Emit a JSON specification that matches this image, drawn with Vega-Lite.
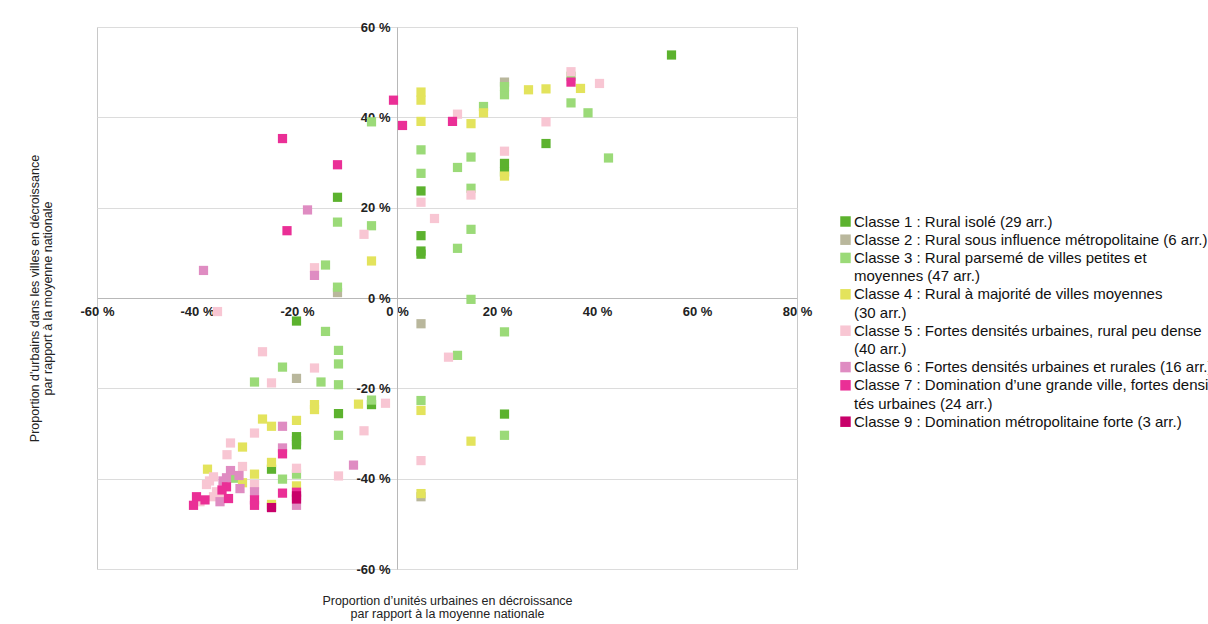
{
"$schema": "https://vega.github.io/schema/vega-lite/v6.json",
"width": 700, "height": 542,
"autosize": {"type": "none"},
"padding": {"left": 97, "top": 27, "right": 411, "bottom": 55},
"background": "white",
"config": {"view": {"stroke": "#c8c8c8"}, "font": "Liberation Sans"},
"data": {"values": [
{"c":"C1","x":-11.9,"y":22.3},{"c":"C1","x":54.9,"y":53.8},{"c":"C1","x":29.8,"y":34.2},{"c":"C1","x":21.5,"y":29.8},{"c":"C1","x":21.5,"y":27.9},{"c":"C1","x":4.8,"y":23.7},{"c":"C1","x":4.8,"y":13.8},{"c":"C1","x":4.8,"y":9.7},{"c":"C1","x":4.8,"y":10.4},{"c":"C1","x":-20.1,"y":-5.1},{"c":"C1","x":-5.1,"y":-23.6},{"c":"C1","x":-11.7,"y":-25.6},{"c":"C1","x":-20.1,"y":-30.7},{"c":"C1","x":-20.1,"y":-32.5},{"c":"C1","x":-20.1,"y":-31.6},{"c":"C1","x":-25.1,"y":-37.9},{"c":"C1","x":21.5,"y":-25.7},
{"c":"C2","x":-11.9,"y":1.2},{"c":"C2","x":-20.1,"y":-17.8},{"c":"C2","x":4.8,"y":-5.7},{"c":"C2","x":4.8,"y":-44},{"c":"C2","x":-25.1,"y":-46.2},{"c":"C2","x":21.5,"y":47.8},
{"c":"C3","x":-5.1,"y":39},{"c":"C3","x":-11.9,"y":16.8},{"c":"C3","x":-5.1,"y":16},{"c":"C3","x":-14.3,"y":7.3},{"c":"C3","x":-11.9,"y":2.4},{"c":"C3","x":34.8,"y":49.1},{"c":"C3","x":21.5,"y":45},{"c":"C3","x":21.5,"y":46.8},{"c":"C3","x":34.8,"y":43.2},{"c":"C3","x":17.3,"y":42.4},{"c":"C3","x":38.2,"y":41},{"c":"C3","x":4.8,"y":32.8},{"c":"C3","x":14.8,"y":31.2},{"c":"C3","x":42.3,"y":31},{"c":"C3","x":12.1,"y":28.9},{"c":"C3","x":4.8,"y":27.6},{"c":"C3","x":14.8,"y":24.3},{"c":"C3","x":14.8,"y":15.2},{"c":"C3","x":12.1,"y":11},{"c":"C3","x":14.8,"y":-0.3},{"c":"C3","x":-14.3,"y":-7.4},{"c":"C3","x":-11.7,"y":-11.6},{"c":"C3","x":-11.7,"y":-14.6},{"c":"C3","x":-22.9,"y":-15.3},{"c":"C3","x":-28.5,"y":-18.6},{"c":"C3","x":-15.2,"y":-18.6},{"c":"C3","x":-11.7,"y":-19.2},{"c":"C3","x":-11.7,"y":-30.4},{"c":"C3","x":-20.1,"y":-39},{"c":"C3","x":-22.9,"y":-40.1},{"c":"C3","x":-32.5,"y":-39.9},{"c":"C3","x":21.5,"y":-7.5},{"c":"C3","x":12.1,"y":-12.7},{"c":"C3","x":4.8,"y":-22.7},{"c":"C3","x":21.5,"y":-30.4},{"c":"C3","x":-5.1,"y":-22.6},
{"c":"C4","x":-5.1,"y":8.2},{"c":"C4","x":36.7,"y":46.4},{"c":"C4","x":26.3,"y":46.1},{"c":"C4","x":29.8,"y":46.3},{"c":"C4","x":4.8,"y":45.6},{"c":"C4","x":4.8,"y":43.8},{"c":"C4","x":17.3,"y":41},{"c":"C4","x":4.8,"y":39.1},{"c":"C4","x":14.8,"y":38.6},{"c":"C4","x":21.5,"y":27},{"c":"C4","x":-7.7,"y":-23.5},{"c":"C4","x":-16.5,"y":-23.6},{"c":"C4","x":-16.5,"y":-24.7},{"c":"C4","x":-26.9,"y":-26.8},{"c":"C4","x":-25.1,"y":-28.4},{"c":"C4","x":-20.1,"y":-27.1},{"c":"C4","x":-30.9,"y":-33},{"c":"C4","x":-25.1,"y":-36.4},{"c":"C4","x":-37.9,"y":-37.9},{"c":"C4","x":-28.5,"y":-39},{"c":"C4","x":-30.9,"y":-40.9},{"c":"C4","x":-20.1,"y":-41.6},{"c":"C4","x":-25.1,"y":-45.7},{"c":"C4","x":4.8,"y":-24.9},{"c":"C4","x":14.8,"y":-31.7},{"c":"C4","x":4.8,"y":-43.3},
{"c":"C5","x":-6.6,"y":14.1},{"c":"C5","x":-16.5,"y":6.7},{"c":"C5","x":34.8,"y":50.1},{"c":"C5","x":40.5,"y":47.5},{"c":"C5","x":12.1,"y":40.7},{"c":"C5","x":29.8,"y":39},{"c":"C5","x":21.5,"y":32.5},{"c":"C5","x":14.8,"y":22.8},{"c":"C5","x":4.8,"y":21.2},{"c":"C5","x":7.5,"y":17.6},{"c":"C5","x":-35.9,"y":-3},{"c":"C5","x":-26.9,"y":-11.9},{"c":"C5","x":-16.5,"y":-15.5},{"c":"C5","x":-25.1,"y":-18.8},{"c":"C5","x":-2.3,"y":-23.3},{"c":"C5","x":-28.5,"y":-29.9},{"c":"C5","x":-6.6,"y":-29.4},{"c":"C5","x":-33.3,"y":-32.1},{"c":"C5","x":-34,"y":-34.7},{"c":"C5","x":-20.1,"y":-37.7},{"c":"C5","x":-30.9,"y":-37.3},{"c":"C5","x":-11.7,"y":-39.4},{"c":"C5","x":-36.7,"y":-39.6},{"c":"C5","x":-28.5,"y":-41.3},{"c":"C5","x":-38.1,"y":-41.3},{"c":"C5","x":-36.1,"y":-42.9},{"c":"C5","x":-36.7,"y":-44},{"c":"C5","x":-39.4,"y":-45.1},{"c":"C5","x":10.3,"y":-13.1},{"c":"C5","x":4.8,"y":-36},{"c":"C5","x":-37.5,"y":-40.5},{"c":"C5","x":-35.5,"y":-43.5},
{"c":"C6","x":-17.9,"y":19.5},{"c":"C6","x":-16.5,"y":5},{"c":"C6","x":-38.7,"y":6.1},{"c":"C6","x":-22.9,"y":-28.4},{"c":"C6","x":-22.9,"y":-33.2},{"c":"C6","x":-8.7,"y":-37},{"c":"C6","x":-33.3,"y":-38.2},{"c":"C6","x":-34.1,"y":-39.8},{"c":"C6","x":-31.6,"y":-39.3},{"c":"C6","x":-31.4,"y":-42.2},{"c":"C6","x":-28.5,"y":-42.9},{"c":"C6","x":-35.4,"y":-45.1},{"c":"C6","x":-20.1,"y":-45.9},{"c":"C6","x":-34.8,"y":-40.5},
{"c":"C7","x":-0.7,"y":43.8},{"c":"C7","x":1.1,"y":38.2},{"c":"C7","x":-22.9,"y":35.3},{"c":"C7","x":-11.9,"y":29.5},{"c":"C7","x":-22,"y":14.9},{"c":"C7","x":34.8,"y":47.8},{"c":"C7","x":11.1,"y":39.1},{"c":"C7","x":-22.9,"y":-34.5},{"c":"C7","x":-34.1,"y":-41.8},{"c":"C7","x":-22.9,"y":-43.2},{"c":"C7","x":-20.1,"y":-43},{"c":"C7","x":-33.7,"y":-44.4},{"c":"C7","x":-38.4,"y":-44.7},{"c":"C7","x":-40.1,"y":-44},{"c":"C7","x":-40.7,"y":-45.9},{"c":"C7","x":-28.5,"y":-44.7},{"c":"C7","x":-28.5,"y":-45.9},{"c":"C7","x":-35,"y":-42.5},
{"c":"C9","x":-20.1,"y":-43.8},{"c":"C9","x":-25.1,"y":-46.4},{"c":"C9","x":-20.1,"y":-44.5}
]},
"mark": {"type": "point", "shape": "square", "filled": true, "size": 85, "opacity": 1},
"encoding": {
"x": {"field": "x", "type": "quantitative",
 "scale": {"domain": [-60, 80], "nice": false, "zero": false},
 "axis": {"values": [-60,-40,-20,0,20,40,60,80], "offset": -271, "grid": false, "ticks": false, "labelPadding": 7,
  "labelExpr": "datum.value + ' %'", "labelFontWeight": "bold", "labelFontSize": 13, "labelColor": "#222", "labelFlush": false, "labelOverlap": false,
  "domainColor": "#b8b8b8",
  "title": ["Proportion d’unités urbaines en décroissance", "par rapport à la moyenne nationale"],
  "titleX": 350, "titleY": 302, "titleBaseline": "middle", "titleAlign": "center", "titleFontWeight": "normal", "titleFontSize": 12.5, "titleLineHeight": 13, "titleColor": "#222"}},
"y": {"field": "y", "type": "quantitative",
 "scale": {"domain": [-60, 60], "nice": false, "zero": false},
 "axis": {"values": [-60,-40,-20,0,20,40,60], "offset": -300, "grid": true, "gridColor": "#dcdcdc", "ticks": false, "labelPadding": 7,
  "labelExpr": "datum.value + ' %'", "labelFontWeight": "bold", "labelFontSize": 13, "labelColor": "#222", "labelFlush": false, "labelOverlap": false,
  "domainColor": "#b8b8b8",
  "title": ["Proportion d'urbains dans les villes en décroissance", "par rapport à la moyenne nationale"],
  "titleX": -363, "titleY": 271, "titleAngle": -90, "titleBaseline": "middle", "titleAlign": "center", "titleFontWeight": "normal", "titleFontSize": 12.5, "titleLineHeight": 13, "titleColor": "#222"}},
"color": {"field": "c", "type": "nominal",
 "scale": {"domain": ["C1","C2","C3","C3b","C4","C4b","C5","C5b","C6","C7","C7b","C9"], "range": ["#5cb22e","#b9b79c","#9bda78","rgba(255,255,255,0)","#e3e35c","rgba(255,255,255,0)","#f8c6d3","rgba(255,255,255,0)","#df8cc2","#ea2f96","rgba(255,255,255,0)","#c8006a"]},
 "legend": {"orient": "none", "legendX": 741, "legendY": 187, "title": null, "symbolType": "square", "symbolSize": 110, "symbolStrokeWidth": 0,
  "labelFontSize": 15, "labelColor": "#111", "labelLimit": 500, "labelOffset": 1, "rowPadding": 2.2, "padding": 0,
  "labelExpr": "datum.label == 'C1' ? 'Classe 1 : Rural isolé (29 arr.)' : datum.label == 'C2' ? 'Classe 2 : Rural sous influence métropolitaine (6 arr.)' : datum.label == 'C3' ? 'Classe 3 : Rural parsemé de villes petites et' : datum.label == 'C3b' ? 'moyennes (47 arr.)' : datum.label == 'C4' ? 'Classe 4 : Rural à majorité de villes moyennes' : datum.label == 'C4b' ? '(30 arr.)' : datum.label == 'C5' ? 'Classe 5 : Fortes densités urbaines, rural peu dense' : datum.label == 'C5b' ? '(40 arr.)' : datum.label == 'C6' ? 'Classe 6 : Fortes densités urbaines et rurales (16 arr.)' : datum.label == 'C7' ? 'Classe 7 : Domination d’une grande ville, fortes densi' : datum.label == 'C7b' ? 'tés urbaines (24 arr.)' : 'Classe 9 : Domination métropolitaine forte (3 arr.)'"}}
}
}
